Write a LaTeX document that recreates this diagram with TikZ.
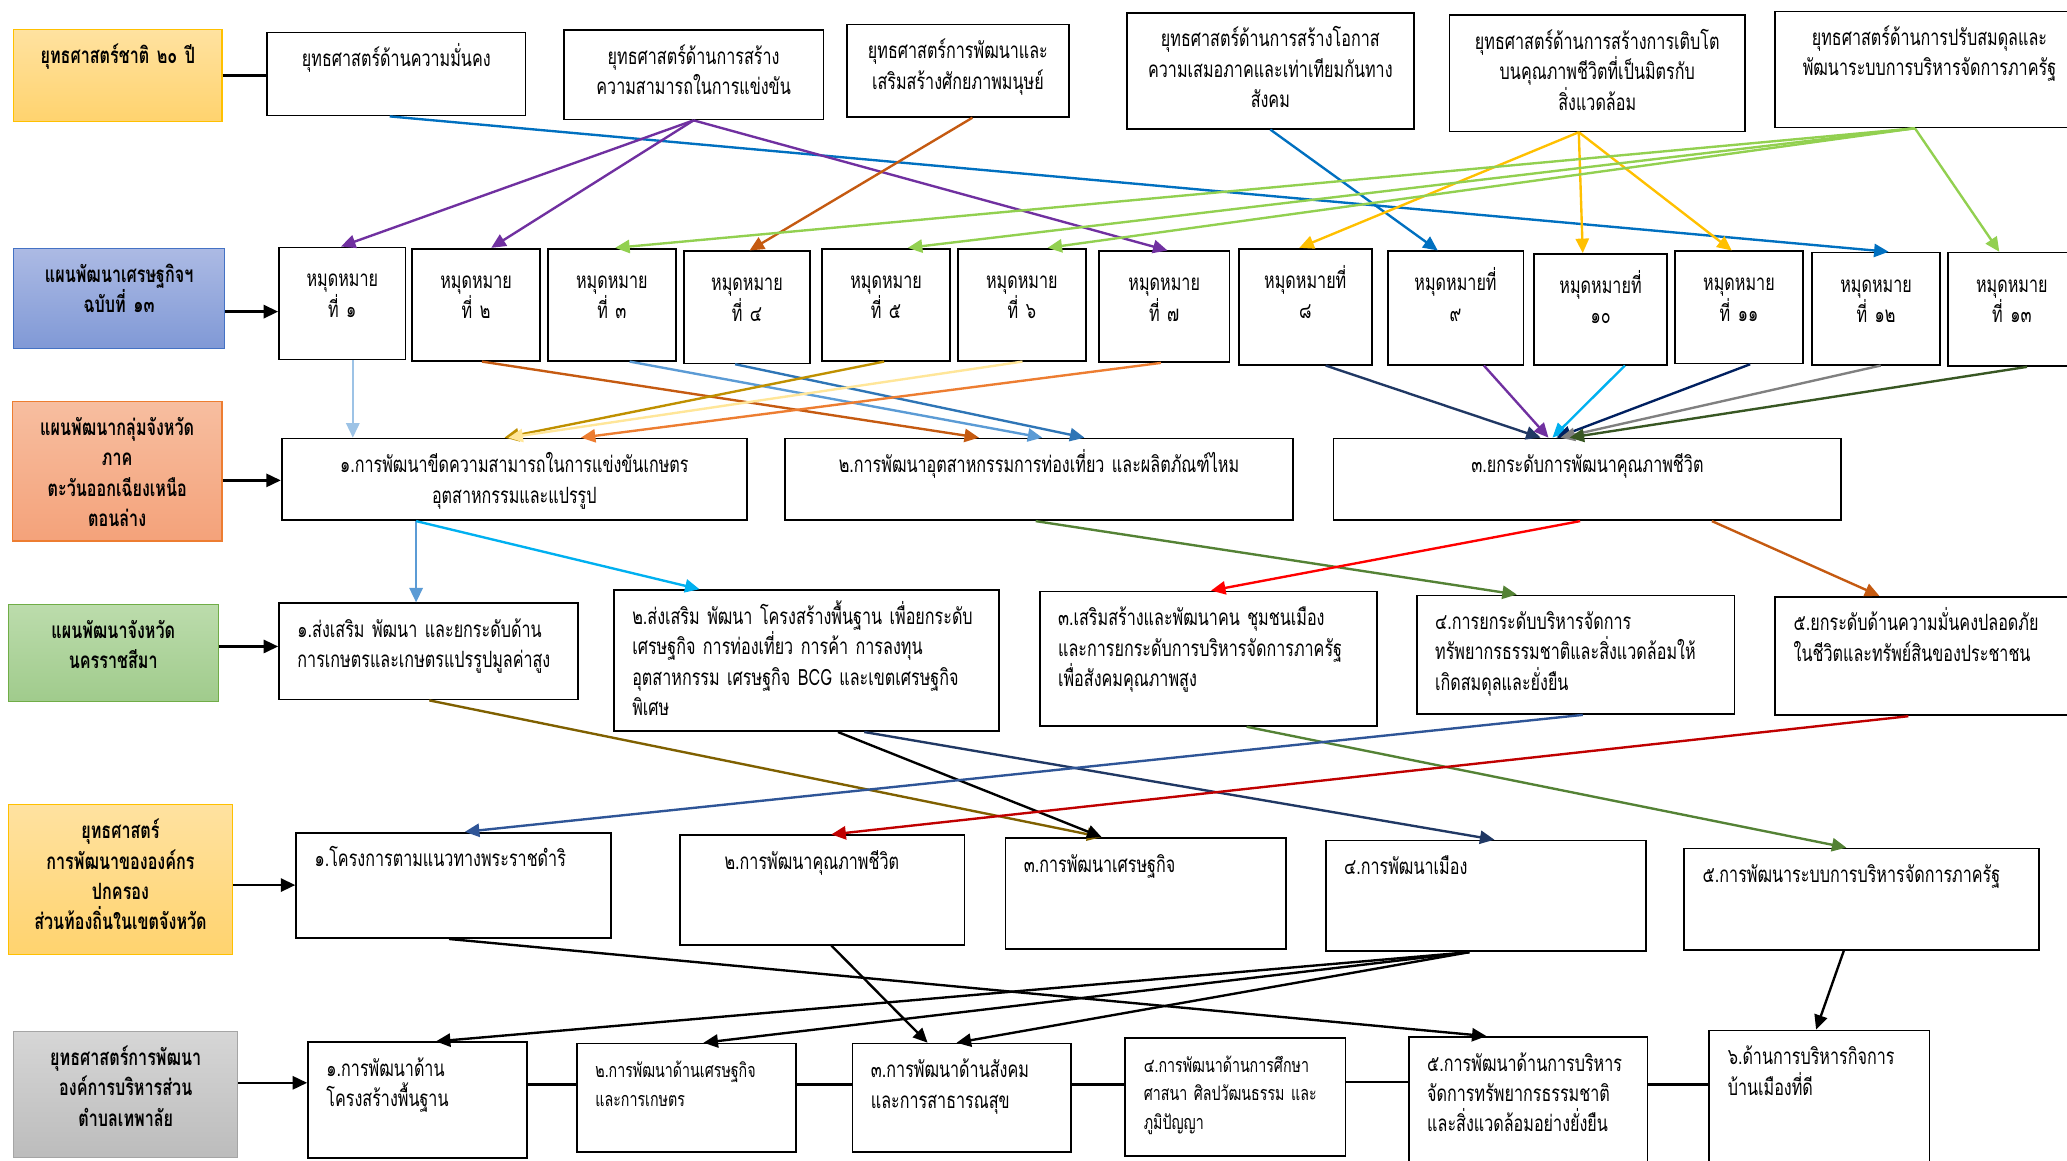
\documentclass[tikz,border=0pt]{standalone}
\usepackage{fontspec}
\setmainfont{Loma}[Script=Thai, FakeStretch=0.72]
\usepackage{xcolor}
\usepackage{tikz}
\usetikzlibrary{arrows.meta}
% label fills
\definecolor{yeltop}{RGB}{255,226,160}
\definecolor{yelbot}{RGB}{255,211,110}
\definecolor{yeledge}{RGB}{255,192,0}
\definecolor{bluetop}{RGB}{172,186,228}
\definecolor{bluebot}{RGB}{128,153,214}
\definecolor{blueedge}{RGB}{68,114,196}
\definecolor{saltop}{RGB}{247,190,160}
\definecolor{salbot}{RGB}{244,162,122}
\definecolor{saledge}{RGB}{237,125,49}
\definecolor{grntop}{RGB}{188,220,172}
\definecolor{grnbot}{RGB}{160,203,140}
\definecolor{grnedge}{RGB}{112,173,71}
\definecolor{graytop}{RGB}{214,214,214}
\definecolor{graybot}{RGB}{188,188,188}
\definecolor{grayedge}{RGB}{165,165,165}
% connector colours
\definecolor{cblue}{RGB}{0,112,192}
\definecolor{cpurple}{RGB}{112,48,160}
\definecolor{crust}{RGB}{197,90,17}
\definecolor{cgold}{RGB}{255,192,0}
\definecolor{clime}{RGB}{146,208,80}
\definecolor{cpale}{RGB}{157,195,230}
\definecolor{csky}{RGB}{91,155,213}
\definecolor{cmid}{RGB}{46,117,182}
\definecolor{cochre}{RGB}{191,144,0}
\definecolor{ccream}{RGB}{255,230,153}
\definecolor{corange}{RGB}{237,125,49}
\definecolor{cnavy}{RGB}{32,56,100}
\definecolor{ccyan}{RGB}{0,176,240}
\definecolor{cdeep}{RGB}{0,32,96}
\definecolor{cgray}{RGB}{128,128,128}
\definecolor{cforest}{RGB}{56,87,35}
\definecolor{cgreen}{RGB}{84,130,53}
\definecolor{cred}{RGB}{255,0,0}
\definecolor{colive}{RGB}{127,96,0}
\definecolor{csteel}{RGB}{47,85,151}
\definecolor{cdark}{RGB}{192,0,0}
\newcommand\boxfont{\fontsize{17}{23}\selectfont}
\newcommand\smallboxfont{\fontsize{15}{21.5}\selectfont}
\newcommand\lblfont{\fontsize{17}{23}\selectfont\bfseries}
\tikzset{
    sz/.style 2 args={
        /utils/exec={\pgfmathsetmacro\boxw{#1-2*\padx}\pgfmathsetmacro\boxd{#2-\txth-12}},
        inner xsep=\padx pt, inner ysep=6pt,
        text width=\boxw pt, text height=\txth pt, text depth=\boxd pt
    },
    box/.style={
        rectangle, draw=black, line width=1.3pt, fill=white,
        anchor=north west, align=left, font=\boxfont,
        /utils/exec={\def\padx{14}\def\txth{20}}
    },
    ms/.style={box, align=center, /utils/exec={\def\padx{3}\def\txth{24}}},
    lbl/.style={
        rectangle, line width=0.8pt, anchor=north west,
        align=center, font=\lblfont,
        /utils/exec={\def\padx{5}\def\txth{20}}
    },
    flow/.style={-{Triangle[length=11pt, width=10pt]}, line width=1.8pt},
    link/.style={line width=1.8pt}
}
\begin{document}
\begin{tikzpicture}[x=1pt, y=-1pt]
        \clip (0,0) rectangle (1568,880);
        \fill[white] (0,0) rectangle (1568,880);
        % national strategy
        \node[lbl, draw=yeledge, top color=yeltop, bottom color=yelbot, sz={158}{70}] (natl) at (10,22) {ยุทธศาสตร์ชาติ ๒๐ ปี};
        \node[box, align=center, sz={196}{63}] (st1) at (202,24) {ยุทธศาสตร์ด้านความมั่นคง};
        \node[box, align=center, sz={197}{68}] (st2) at (427,22) {ยุทธศาสตร์ด้านการสร้าง\\ความสามารถในการแข่งขัน};
        \node[box, align=center, sz={168}{70}] (st3) at (642,18) {ยุทธศาสตร์การพัฒนาและ\\เสริมสร้างศักยภาพมนุษย์};
        \node[box, align=center, sz={218}{88}] (st4) at (854,9) {ยุทธศาสตร์ด้านการสร้างโอกาส\\ความเสมอภาคและเท่าเทียมกันทาง\\สังคม};
        \node[box, align=center, sz={224}{88}] (st5) at (1099,11) {ยุทธศาสตร์ด้านการสร้างการเติบโต\\บนคุณภาพชีวิตที่เป็นมิตรกับ\\สิ่งแวดล้อม};
        \node[box, align=center, sz={234}{88}] (st6) at (1346,8) {ยุทธศาสตร์ด้านการปรับสมดุลและ\\พัฒนาระบบการบริหารจัดการภาครัฐ};
        % 13th plan milestones
        \node[lbl, draw=blueedge, top color=bluetop, bottom color=bluebot, sz={160}{76}] (nesdp) at (10,188) {แผนพัฒนาเศรษฐกิจฯ\\ฉบับที่ ๑๓};
        \node[ms, sz={96}{85}] (mh1) at (211,187) {หมุดหมาย\\ที่ ๑};
        \node[ms, sz={97}{85}] (mh2) at (312,188) {หมุดหมาย\\ที่ ๒};
        \node[ms, sz={97}{85}] (mh3) at (415,188) {หมุดหมาย\\ที่ ๓};
        \node[ms, sz={96}{85}] (mh4) at (518,190) {หมุดหมาย\\ที่ ๔};
        \node[ms, sz={97}{85}] (mh5) at (623,188) {หมุดหมาย\\ที่ ๕};
        \node[ms, sz={97}{85}] (mh6) at (726,188) {หมุดหมาย\\ที่ ๖};
        \node[ms, sz={99}{84}] (mh7) at (833,190) {หมุดหมาย\\ที่ ๗};
        \node[ms, sz={101}{88}] (mh8) at (939,188) {หมุดหมายที่\\๘};
        \node[ms, sz={103}{86}] (mh9) at (1052,190) {หมุดหมายที่\\๙};
        \node[ms, sz={101}{84}] (mh10) at (1163,192) {หมุดหมายที่\\๑๐};
        \node[ms, sz={97}{85}] (mh11) at (1270,190) {หมุดหมาย\\ที่ ๑๑};
        \node[ms, sz={97}{85}] (mh12) at (1374,191) {หมุดหมาย\\ที่ ๑๒};
        \node[ms, sz={97}{86}] (mh13) at (1477,191) {หมุดหมาย\\ที่ ๑๓};
        % provincial group plan
        \node[lbl, draw=saledge, top color=saltop, bottom color=salbot, sz={159}{106}] (grplbl) at (9,304) {แผนพัฒนากลุ่มจังหวัด\\ภาค\\ตะวันออกเฉียงเหนือ\\ตอนล่าง};
        \node[box, align=center, sz={353}{62}] (grp1) at (213,332) {๑.การพัฒนาขีดความสามารถในการแข่งขันเกษตร\\อุตสาหกรรมและแปรรูป};
        \node[box, align=center, sz={385}{62}] (grp2) at (595,332) {๒.การพัฒนาอุตสาหกรรมการท่องเที่ยว และผลิตภัณฑ์ไหม};
        \node[box, align=center, sz={385}{62}] (grp3) at (1011,332) {๓.ยกระดับการพัฒนาคุณภาพชีวิต};
        % province plan
        \node[lbl, draw=grnedge, top color=grntop, bottom color=grnbot, sz={159}{74}] (prvlbl) at (6,458) {แผนพัฒนาจังหวัด\\นครราชสีมา};
        \node[box, sz={227}{73}] (prv1) at (211,457) {๑.ส่งเสริม พัฒนา และยกระดับด้าน\\การเกษตรและเกษตรแปรรูปมูลค่าสูง};
        \node[box, sz={292}{107}] (prv2) at (465,447) {๒.ส่งเสริม พัฒนา โครงสร้างพื้นฐาน เพื่อยกระดับ\\เศรษฐกิจ การท่องเที่ยว การค้า การลงทุน\\อุตสาหกรรม เศรษฐกิจ BCG และเขตเศรษฐกิจ\\พิเศษ};
        \node[box, sz={256}{102}] (prv3) at (788,448) {๓.เสริมสร้างและพัฒนาคน ชุมชนเมือง\\และการยกระดับการบริหารจัดการภาครัฐ\\เพื่อสังคมคุณภาพสูง};
        \node[box, sz={241}{90}] (prv4) at (1074,451) {๔.การยกระดับบริหารจัดการ\\ทรัพยากรธรรมชาติและสิ่งแวดล้อมให้\\เกิดสมดุลและยั่งยืน};
        \node[box, sz={230}{90}] (prv5) at (1346,452) {๕.ยกระดับด้านความมั่นคงปลอดภัย\\ในชีวิตและทรัพย์สินของประชาชน};
        % local government strategy
        \node[lbl, draw=yeledge, top color=yeltop, bottom color=yelbot, sz={170}{114}] (loclbl) at (6,610) {ยุทธศาสตร์\\การพัฒนาขององค์กร\\ปกครอง\\ส่วนท้องถิ่นในเขตจังหวัด};
        \node[box, sz={239}{80}] (loc1) at (224,631) {๑.โครงการตามแนวทางพระราชดำริ};
        \node[box, sz={216}{83}] (loc2) at (515,633) {\hspace*{20pt}๒.การพัฒนาคุณภาพชีวิต};
        \node[box, sz={213}{84}] (loc3) at (762,635) {๓.การพัฒนาเศรษฐกิจ};
        \node[box, sz={243}{84}] (loc4) at (1005,637) {๔.การพัฒนาเมือง};
        \node[box, sz={269}{77}] (loc5) at (1277,643) {๕.การพัฒนาระบบการบริหารจัดการภาครัฐ};
        % tambon strategy
        \node[lbl, draw=grayedge, top color=graytop, bottom color=graybot, sz={170}{96}] (tmblbl) at (10,782) {ยุทธศาสตร์การพัฒนา\\องค์การบริหารส่วน\\ตำบลเทพาลัย};
        \node[box, sz={166}{88}] (tmb1) at (233,790) {๑.การพัฒนาด้าน\\โครงสร้างพื้นฐาน};
        \node[box, font=\smallboxfont, sz={166}{82}] (tmb2) at (437,791) {๒.การพัฒนาด้านเศรษฐกิจ\\และการเกษตร};
        \node[box, sz={166}{82}] (tmb3) at (646,791) {๓.การพัฒนาด้านสังคม\\และการสาธารณสุข};
        \node[box, font=\smallboxfont, sz={167}{89}] (tmb4) at (853,787) {๔.การพัฒนาด้านการศึกษา\\ศาสนา ศิลปวัฒนธรรม และ\\ภูมิปัญญา};
        \node[box, sz={181}{100}] (tmb5) at (1068,786) {๕.การพัฒนาด้านการบริหาร\\จัดการทรัพยากรธรรมชาติ\\และสิ่งแวดล้อมอย่างยั่งยืน};
        \node[box, sz={167}{100}] (tmb6) at (1296,781) {๖.ด้านการบริหารกิจการ\\บ้านเมืองที่ดี};
        % row labels to their rows
        \draw[link] (natl.east) -- (natl.east -| st1.west);
        \draw[flow] ([yshift=-10pt]nesdp.east) -- ([yshift=-10pt]nesdp.east -| mh1.west);
        \draw[flow] ([yshift=-7pt]grplbl.east) -- ([yshift=-7pt]grplbl.east -| grp1.west);
        \draw[flow] ([yshift=5pt]prvlbl.east) -- ([yshift=5pt]prvlbl.east -| prv1.west);
        \draw[flow] ([yshift=-4pt]loclbl.east) -- ([yshift=-4pt]loclbl.east -| loc1.west);
        \draw[flow] ([yshift=9pt]tmblbl.east) -- ([yshift=9pt]tmblbl.east -| tmb1.west);
        \draw[link] ([yshift=12pt]tmb1.east) -- ([yshift=12pt]tmb1.east -| tmb2.west);
        \draw[link] ([yshift=10pt]tmb2.east) -- ([yshift=10pt]tmb2.east -| tmb3.west);
        \draw[link] ([yshift=10pt]tmb3.east) -- ([yshift=10pt]tmb3.east -| tmb4.west);
        \draw[link] ([yshift=11.5pt]tmb4.east) -- ([yshift=11.5pt]tmb4.east -| tmb5.west);
        \draw[link] ([yshift=14pt]tmb5.east) -- ([yshift=14pt]tmb5.east -| tmb6.west);
        % national strategy -> milestones
        \draw[flow, cblue] ([xshift=-5pt]st1.south) -- ([xshift=9.5pt]mh12.north);
        \draw[flow, cpurple] (st2.south) -- ([xshift=-1pt]mh1.north);
        \draw[flow, cpurple] (st2.south) -- ([xshift=11.5pt]mh2.north);
        \draw[flow, cpurple] (st2.south) -- ([xshift=2.5pt]mh7.north);
        \draw[flow, crust] ([xshift=11pt]st3.south) -- ([xshift=2pt]mh4.north);
        \draw[flow, cblue] (st4.south) -- ([xshift=-13.5pt]mh9.north);
        \draw[flow, cgold] ([xshift=-14pt]st5.south) -- ([xshift=-4.5pt]mh8.north);
        \draw[flow, cgold] ([xshift=-14pt]st5.south) -- ([xshift=-13.5pt]mh10.north);
        \draw[flow, cgold] ([xshift=-14pt]st5.south) -- ([xshift=-5.5pt]mh11.north);
        \draw[flow, clime] ([xshift=-11pt]st6.south) -- ([xshift=2.5pt]mh3.north);
        \draw[flow, clime] ([xshift=-11pt]st6.south) -- ([xshift=16.5pt]mh5.north);
        \draw[flow, clime] ([xshift=-11pt]st6.south) -- ([xshift=19.5pt]mh6.north);
        \draw[flow, clime] ([xshift=-11pt]st6.south) -- ([xshift=-9.5pt]mh13.north);
        % milestones -> group plan
        \draw[flow, cpale] ([xshift=8pt]mh1.south) -- ([xshift=-122.5pt]grp1.north);
        \draw[flow, crust] ([xshift=4.5pt]mh2.south) -- ([xshift=-45.5pt]grp2.north);
        \draw[flow, csky] ([xshift=13.5pt]mh3.south) -- ([xshift=2.5pt]grp2.north);
        \draw[flow, cmid] ([xshift=-9pt]mh4.south) -- ([xshift=34.5pt]grp2.north);
        \draw[flow, cochre] ([xshift=-1.5pt]mh5.south) -- ([xshift=-7.5pt]grp1.north);
        \draw[flow, ccream] ([xshift=0.5pt]mh6.south) -- ([xshift=-4.5pt]grp1.north);
        \draw[flow, corange] ([xshift=-2.5pt]mh7.south) -- ([xshift=50.5pt]grp1.north);
        \draw[flow, cnavy] ([xshift=15.5pt]mh8.south) -- ([xshift=-35.5pt]grp3.north);
        \draw[flow, cpurple] ([xshift=21.5pt]mh9.south) -- ([xshift=-29.5pt]grp3.north);
        \draw[flow, ccyan] ([xshift=18.5pt]mh10.south) -- ([xshift=-26.5pt]grp3.north);
        \draw[flow, cdeep] ([xshift=8.5pt]mh11.south) -- ([xshift=-23.5pt]grp3.north);
        \draw[flow, cgray] ([xshift=3.5pt]mh12.south) -- ([xshift=-20.5pt]grp3.north);
        \draw[flow, cforest] ([xshift=11.5pt]mh13.south) -- ([xshift=-13.5pt]grp3.north);
        % group plan -> province plan
        \draw[flow, csky] ([xshift=-74.5pt]grp1.south) -- ([xshift=-9.5pt]prv1.north);
        \draw[flow, ccyan] ([xshift=-74.5pt]grp1.south) -- ([xshift=-81pt]prv2.north);
        \draw[flow, cgreen] ([xshift=-2.5pt]grp2.south) -- ([xshift=-44.5pt]prv4.north);
        \draw[flow, cred] ([xshift=-5.5pt]grp3.south) -- ([xshift=2pt]prv3.north);
        \draw[flow, crust] ([xshift=94.5pt]grp3.south) -- ([xshift=-36pt]prv5.north);
        % province plan -> local strategy
        \draw[flow, colive] ([xshift=0.5pt]prv1.south) -- ([xshift=-33.5pt]loc3.north);
        \draw[flow, black] ([xshift=24pt]prv2.south) -- ([xshift=-33.5pt]loc3.north);
        \draw[flow, cnavy] ([xshift=44pt]prv2.south) -- ([xshift=6.5pt]loc4.north);
        \draw[flow, cgreen] ([xshift=29pt]prv3.south) -- ([xshift=-11.5pt]loc5.north);
        \draw[flow, csteel] ([xshift=5.5pt]prv4.south) -- ([xshift=8.5pt]loc1.north);
        \draw[flow, cdark] ([xshift=-14pt]prv5.south) -- ([xshift=7pt]loc2.north);
        % local strategy -> tambon strategy
        \draw[flow] ([xshift=-3.5pt]loc1.south) -- ([xshift=-31.5pt]tmb5.north);
        \draw[flow] ([xshift=7pt]loc2.south) -- ([xshift=-26pt]tmb3.north);
        \draw[flow] ([xshift=-12.5pt]loc4.south) -- ([xshift=14pt]tmb1.north);
        \draw[flow] ([xshift=-12.5pt]loc4.south) -- ([xshift=13pt]tmb2.north);
        \draw[flow] ([xshift=-12.5pt]loc4.south) -- ([xshift=-4pt]tmb3.north);
        \draw[flow] ([xshift=-13.5pt]loc5.south) -- ([xshift=-2.5pt]tmb6.north);
    \end{tikzpicture}
\end{document}
